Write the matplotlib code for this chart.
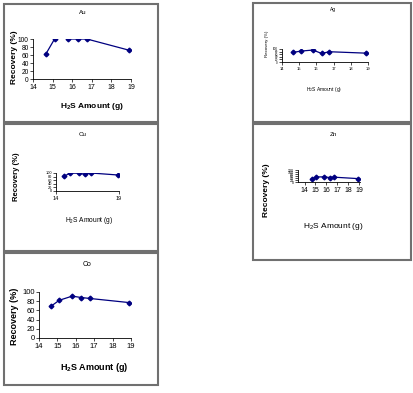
import matplotlib
matplotlib.use('Agg')
import matplotlib.pyplot as plt
from matplotlib.patches import Rectangle

plt.rcParams['font.family'] = ['Liberation Sans', 'DejaVu Sans']
plt.rcParams['mathtext.default'] = 'regular'

W, H = 413, 393

# H2S amount (g) and recovery (%)
h2s = [14.65, 15.1, 15.8, 16.3, 16.75, 18.9]
au = [62, 100, 100, 100, 100, 72]
ag = [74, 84, 92, 66, 79, 68]
cu = [82, 99, 99, 93, 100, 89]
zn = [31, 51, 51, 45, 48, 34]
co = [69, 82, 91, 88, 86, 77]

xlab = 'H$_2$S Amount (g)'
ylab = 'Recovery (%)'
navy = '#000080'


def fx(x):
    return x / W


def fy(y):
    return 1 - y / H


def add_box(fig, x0, y0, x1, y1):
    fig.patches.append(Rectangle((fx(x0), fy(y1)), fx(x1 - x0), (y1 - y0) / H,
                                 transform=fig.transFigure, fill=False,
                                 edgecolor='#707070', lw=1.5))


def add_panel(fig, rect, x, y, name, xlim, xticks, ylim, yticks, fs, yfs,
              labels, split=None):
    x0, y0, x1, y1 = rect
    ax = fig.add_axes([fx(x0), fy(y1), fx(x1 - x0), (y1 - y0) / H])
    if split is None:
        ax.plot(x, y, color=navy, lw=0.9, marker='D', ms=2.4)
    else:
        ax.plot(x[:split], y[:split], color=navy, lw=0.9, marker='D', ms=2.4)
        ax.plot(x[split:], y[split:], color=navy, lw=0.9, marker='D', ms=2.4)
    ax.set_xlim(*xlim)
    ax.set_ylim(*ylim)
    ax.set_xticks(xticks)
    ax.set_yticks(yticks)
    for s in ['top', 'right']:
        ax.spines[s].set_visible(False)
    for s in ['left', 'bottom']:
        ax.spines[s].set_linewidth(0.6)
    ax.tick_params(direction='out', length=2, width=0.5, pad=1.5)
    ax.tick_params(axis='x', labelsize=fs)
    ax.tick_params(axis='y', labelsize=yfs, pad=1)
    ax.patch.set_alpha(0)

    (tx, ty, tfs), (lx, ly, lfs, lw), (yx, yy, ylfs, yw) = labels
    fig.text(fx(tx), fy(ty), name, ha='center', va='center', fontsize=tfs)
    fig.text(fx(lx), fy(ly), xlab, ha='center', va='center', fontsize=lfs,
             fontweight=lw)
    fig.text(fx(yx), fy(yy), ylab, ha='center', va='center', fontsize=ylfs,
             fontweight=yw, rotation=90)
    return ax


fig = plt.figure(figsize=(W / 100, H / 100), dpi=100)

add_box(fig, 4, 4, 158, 122)
add_box(fig, 253, 3, 411, 122)
add_box(fig, 4, 124, 158, 251)
add_box(fig, 253, 124, 411, 260)
add_box(fig, 4, 253, 158, 385)

add_panel(fig, (33, 39, 131, 79), h2s, au, 'Au', (14, 19), range(14, 20),
          (0, 100), range(0, 101, 20), 5, 4.8,
          [(83, 12, 4.5), (92, 106, 6, 'bold'), (15, 57, 6, 'bold')], split=2)

add_panel(fig, (282, 49, 368, 62), h2s, ag, 'Ag', (14, 19), range(14, 20),
          (0, 100), range(0, 101, 20), 3, 2.2,
          [(333, 10, 3.5), (324, 89, 3.5, 'normal'), (267, 44, 3.2, 'normal')])

add_panel(fig, (56, 173, 119, 191), h2s, cu, 'Cu', (14, 19), [14, 19],
          (0, 100), range(0, 101, 20), 4, 2.8,
          [(83, 134, 4.5), (89, 220, 4.8, 'normal'), (16, 177, 5.5, 'bold')])

add_panel(fig, (298, 170, 360, 182), h2s, zn, 'Zn', (13.4, 19.1),
          range(14, 20), (0, 120), range(0, 121, 20), 5, 2.6,
          [(333, 135, 4.5), (333, 227, 6, 'normal'), (267, 190, 6, 'bold')])

add_panel(fig, (39, 292, 131, 338), h2s, co, 'Co', (14, 19), range(14, 20),
          (0, 100), range(0, 101, 20), 5.5, 5.5,
          [(87, 264, 5), (94, 367, 6.5, 'bold'), (15, 316, 6.5, 'bold')])

fig.savefig('out.png', dpi=100)
